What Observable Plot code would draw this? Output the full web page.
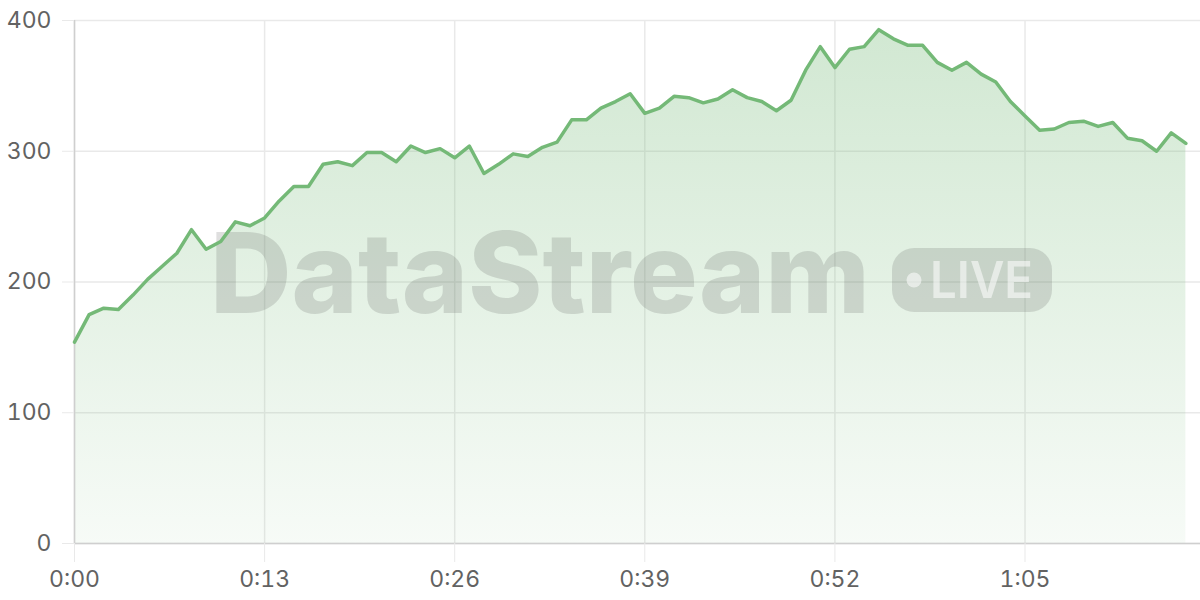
<!DOCTYPE html>
<html>
<head>
<meta charset="utf-8">
<script src="https://cdn.jsdelivr.net/npm/d3@7"></script>
<script src="https://cdn.jsdelivr.net/npm/@observablehq/plot@0.6"></script>
<style>
  html, body { margin: 0; padding: 0; background: #fff; }
  #chart { width: 1200px; height: 600px; }
</style>
</head>
<body>
<div id="chart"></div>
<script>
// seconds since start
const seconds = d3.range(0, 77);
// values, one per second
const values = [
  154, 175, 180, 179, 190, 202, 212, 222, 240, 225,
  231, 246, 243, 249, 262, 273, 273, 290, 292, 289,
  299, 299, 292, 304, 299, 302, 295, 304, 283, 290,
  298, 296, 303, 307, 324, 324, 333, 338, 344, 329,
  333, 342, 341, 337, 340, 347, 341, 338, 331, 339,
  362, 380, 364, 378, 380, 393, 386, 381, 381, 368,
  362, 368, 359, 353, 338, 327, 316, 317, 322, 323,
  319, 322, 310, 308, 300, 314, 306
];
const xTicks = [0, 13, 26, 39, 52, 65];
const yTicks = [0, 100, 200, 300, 400];
const xDomain = [0, 77];
const yDomain = [0, 400];

const data = seconds.map((t, i) => ({t, v: values[i]}));
const fmt = d => `${Math.floor(d / 60)}:${String(d % 60).padStart(2, "0")}`;

const gridColor = "#e9e9e9";
const axisColor = "#cfcfcf";
const lineColor = "#74b977";
const font = "Inter, 'Noto Sans', sans-serif";

const svg = Plot.plot({
  width: 1200,
  height: 600,
  marginLeft: 74,
  marginRight: 0,
  marginTop: 20,
  marginBottom: 57,
  style: {fontFamily: font, fontSize: "23px", color: "#626262", background: "#fff"},
  x: {domain: xDomain},
  y: {domain: yDomain},
  marks: [
    Plot.gridY({ticks: yTicks, stroke: gridColor, strokeOpacity: 1, strokeWidth: 1.5}),
    Plot.gridX({ticks: xTicks, stroke: gridColor, strokeOpacity: 1, strokeWidth: 1.5}),
    Plot.areaY(data, {x: "t", y: "v", fill: "url(#areaGrad)", curve: "linear"}),
    Plot.ruleY([0], {stroke: axisColor, strokeWidth: 1.5}),
    Plot.ruleX([0], {stroke: axisColor, strokeWidth: 1.5}),
    Plot.axisX({ticks: xTicks, tickFormat: fmt, tickSize: 19, tickPadding: 8,
      stroke: gridColor, strokeOpacity: 1, fill: "#626262", label: null}),
    Plot.axisY({ticks: yTicks, tickSize: 12, tickPadding: 11,
      stroke: gridColor, strokeOpacity: 1, fill: "#626262", label: null}),
    Plot.lineY(data, {x: "t", y: "v", stroke: lineColor, strokeWidth: 3.5,
      strokeLinejoin: "round", strokeLinecap: "round"})
  ]
});

const s = d3.select(svg);
const defs = s.insert("defs", ":first-child");
const grad = defs.append("linearGradient")
  .attr("id", "areaGrad").attr("x1", 0).attr("y1", 0).attr("x2", 0).attr("y2", 1);
grad.append("stop").attr("offset", "0%").attr("stop-color", lineColor).attr("stop-opacity", 0.33);
grad.append("stop").attr("offset", "100%").attr("stop-color", lineColor).attr("stop-opacity", 0.06);

// Watermark (inserted beneath the line)
const lineNode = s.selectAll("g[aria-label='line']").node();
const wm = s.insert("g", () => lineNode).attr("aria-label", "watermark")
  .attr("text-anchor", "start");
wm.append("text")
  .attr("x", 210).attr("y", 313)
  .attr("font-family", font).attr("font-weight", 800).attr("font-size", 112)
  .attr("textLength", 660).attr("lengthAdjust", "spacingAndGlyphs")
  .attr("fill", "#555").attr("fill-opacity", 0.19)
  .text("DataStream");
wm.append("rect")
  .attr("x", 892).attr("y", 248).attr("width", 160).attr("height", 64).attr("rx", 22)
  .attr("fill", "#555").attr("fill-opacity", 0.19);
wm.append("circle")
  .attr("cx", 914).attr("cy", 280).attr("r", 7.5)
  .attr("fill", "#fff").attr("fill-opacity", 0.55);
wm.append("text")
  .attr("x", 930).attr("y", 298)
  .attr("font-family", font).attr("font-weight", 600).attr("font-size", 51)
  .attr("textLength", 103).attr("lengthAdjust", "spacingAndGlyphs")
  .attr("fill", "#fff").attr("fill-opacity", 0.55)
  .text("LIVE");

document.getElementById("chart").appendChild(svg);
</script>
</body>
</html>
